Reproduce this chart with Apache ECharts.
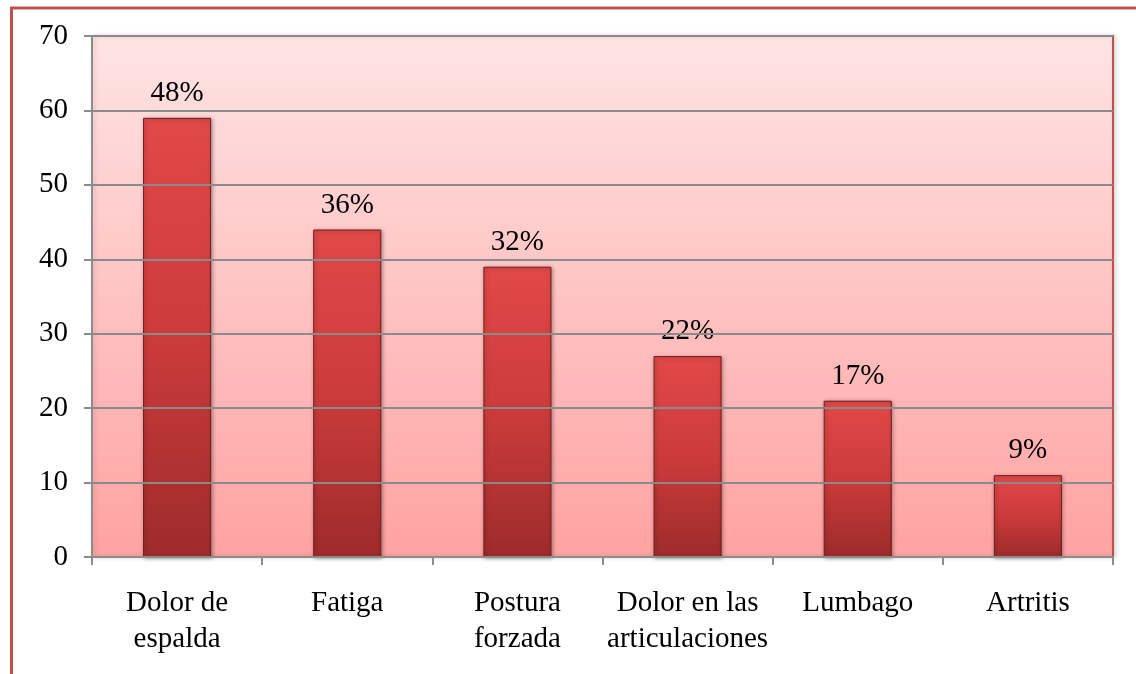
<!DOCTYPE html>
<html>
<head>
<meta charset="utf-8">
<script src="https://cdn.jsdelivr.net/npm/echarts@6/dist/echarts.min.js"></script>
<style>
html,body{margin:0;padding:0;background:#fff;}
#chart{width:1136px;height:674px;}
</style>
</head>
<body>
<div id="chart"></div>
<script>
const categories = ['Dolor de\nespalda', 'Fatiga', 'Postura\nforzada', 'Dolor en las\narticulaciones', 'Lumbago', 'Artritis'];
const values = [59, 44, 39, 27, 21, 11];
const percentLabels = ['48%', '36%', '32%', '22%', '17%', '9%'];
const yTicks = { min: 0, max: 70, interval: 10 };

const chart = echarts.init(document.getElementById('chart'), null, { renderer: 'canvas' });
const font = '"Liberation Serif", "Times New Roman", serif';

const option = {
  animation: false,
  grid: {
    left: 92, right: 23, top: 36, bottom: 117,
    show: true,
    backgroundColor: new echarts.graphic.LinearGradient(0, 0, 0, 1, [
      { offset: 0, color: '#ffe4e4' },
      { offset: 1, color: '#ffa2a2' }
    ]),
    borderColor: '#c0504d',
    borderWidth: 2,
    shadowColor: 'rgba(0,0,0,0.15)',
    shadowBlur: 4,
    shadowOffsetX: 2
  },
  graphic: [
    { type: 'line', shape: { x1: 10, y1: 8, x2: 1136, y2: 8 }, style: { stroke: '#c0504d', lineWidth: 3 }, z: 10 },
    { type: 'line', shape: { x1: 11.5, y1: 7, x2: 11.5, y2: 674 }, style: { stroke: '#c0504d', lineWidth: 3 }, z: 10 }
  ],
  xAxis: {
    type: 'category',
    data: categories,
    axisLine: { show: true, lineStyle: { color: '#8c8c8c', width: 2 } },
    axisTick: { show: true, length: 8, alignWithLabel: false, lineStyle: { color: '#8c8c8c', width: 2 } },
    axisLabel: {
      interval: 0, margin: 28,
      fontFamily: font, fontSize: 29, color: '#000', lineHeight: 36
    },
    splitLine: { show: false },
    z: 5
  },
  yAxis: {
    type: 'value',
    min: yTicks.min, max: yTicks.max, interval: yTicks.interval,
    axisLine: { show: true, lineStyle: { color: '#8c8c8c', width: 2 } },
    axisTick: { show: true, length: 8, lineStyle: { color: '#8c8c8c', width: 2 } },
    axisLabel: { margin: 24, fontFamily: font, fontSize: 29, color: '#000' },
    splitLine: { show: true, lineStyle: { color: '#8a8a8a', width: 2 } },
    z: 5
  },
  series: [{
    type: 'bar',
    data: values,
    barWidth: '40%',
    z: 3,
    itemStyle: {
      color: new echarts.graphic.LinearGradient(0, 0, 0, 1, [
        { offset: 0, color: '#e24848' },
        { offset: 0.5, color: '#cc3b3b' },
        { offset: 1, color: '#9e2b2b' }
      ]),
      borderColor: '#6e1e1e',
      borderWidth: 1,
      shadowColor: 'rgba(0,0,0,0.35)',
      shadowBlur: 4,
      shadowOffsetX: 1,
      shadowOffsetY: 1
    },
    label: {
      show: true,
      position: 'top',
      distance: 10,
      fontFamily: font, fontSize: 29, color: '#000',
      formatter: p => percentLabels[p.dataIndex]
    }
  }]
};
chart.setOption(option);
</script>
</body>
</html>
